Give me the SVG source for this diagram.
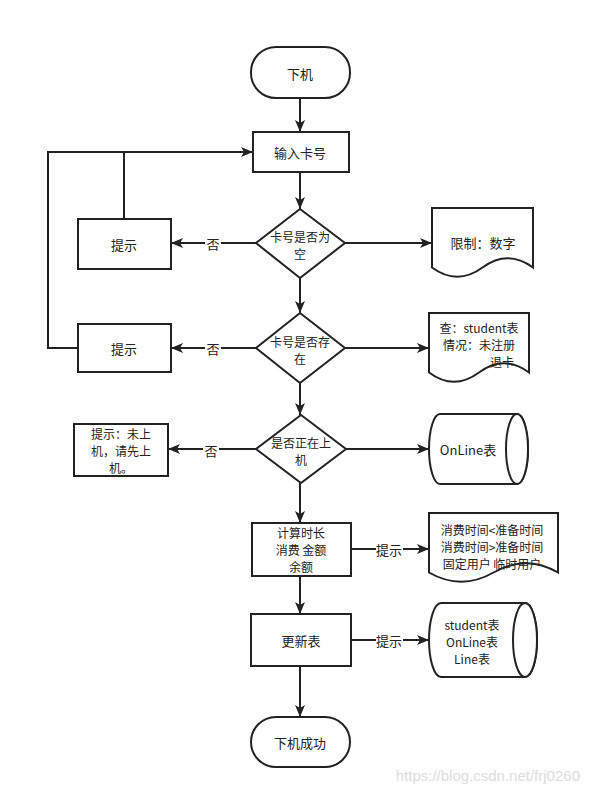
<svg xmlns="http://www.w3.org/2000/svg" width="590" height="799" viewBox="0 0 590 799">
<defs>
<marker id="arr" viewBox="0 0 12 10" refX="12" refY="5" markerWidth="12" markerHeight="10" markerUnits="userSpaceOnUse" orient="auto">
<path d="M0,0 L12,5 L0,10 L3,5 Z" fill="#222"/>
</marker>
<style>
.s{fill:#fff;stroke:#222;stroke-width:2}
.c{fill:none;stroke:#222;stroke-width:2}
.t{font-family:"Noto Sans CJK SC","Liberation Sans",sans-serif;font-size:13px;fill:#222;text-anchor:middle;dominant-baseline:central}
.m{font-size:12px}
.lb{fill:#fff}
</style>
</defs>
<rect width="590" height="799" fill="#fff"/>
<g id="connectors">
<path class="c" d="M300,98 V132" marker-end="url(#arr)"/>
<path class="c" d="M300,172 V209" marker-end="url(#arr)"/>
<path class="c" d="M300,278 V313" marker-end="url(#arr)"/>
<path class="c" d="M300,383 V415" marker-end="url(#arr)"/>
<path class="c" d="M300,483 V523" marker-end="url(#arr)"/>
<path class="c" d="M300,576 V614" marker-end="url(#arr)"/>
<path class="c" d="M300,666 V717" marker-end="url(#arr)"/>
<path class="c" d="M256,243 H171" marker-end="url(#arr)"/>
<path class="c" d="M256,348 H171" marker-end="url(#arr)"/>
<path class="c" d="M256,449 H168" marker-end="url(#arr)"/>
<path class="c" d="M345,243 H432" marker-end="url(#arr)"/>
<path class="c" d="M345,348 H429" marker-end="url(#arr)"/>
<path class="c" d="M346,449 H429" marker-end="url(#arr)"/>
<path class="c" d="M351,549 H429" marker-end="url(#arr)"/>
<path class="c" d="M351,640 H429" marker-end="url(#arr)"/>
<path class="c" d="M124,219 V152 H253" marker-end="url(#arr)"/>
<path class="c" d="M78,348 H48 V152 H124"/>
<rect class="lb" x="205" y="235" width="16" height="16"/>
<text class="t" x="213" y="243">否</text>
<rect class="lb" x="205" y="340" width="16" height="16"/>
<text class="t" x="213" y="348">否</text>
<rect class="lb" x="203" y="441" width="16" height="16"/>
<text class="t" x="211" y="450">否</text>
<rect class="lb" x="376" y="541" width="27" height="16"/>
<text class="t" x="389" y="549">提示</text>
<rect class="lb" x="376" y="632" width="27" height="16"/>
<text class="t" x="389" y="640">提示</text>
</g>
<g id="start">
<rect class="s" x="251" y="47" width="99" height="51" rx="25" ry="25"/>
<text class="t" x="300" y="73">下机</text>
</g>
<g id="input">
<rect class="s" x="253" y="132" width="96" height="40"/>
<text class="t" x="300" y="152">输入卡号</text>
</g>
<g id="d1">
<polygon class="s" points="300,209 345,243 300,278 256,243"/>
<text class="t m" x="300" y="236">卡号是否为</text>
<text class="t m" x="300" y="253">空</text>
</g>
<g id="tip1">
<rect class="s" x="78" y="219" width="93" height="50"/>
<text class="t" x="124" y="244">提示</text>
</g>
<g id="doc1">
<path class="s" d="M432,208 H533 V267.5 Q507.75,249 482.5,267.5 Q457.25,286 432,267.5 Z"/>
<text class="t" x="483" y="242">限制：数字</text>
</g>
<g id="d2">
<polygon class="s" points="300,313 345,348 300,383 256,348"/>
<text class="t m" x="300" y="341">卡号是否存</text>
<text class="t m" x="300" y="358">在</text>
</g>
<g id="tip2">
<rect class="s" x="78" y="324" width="93" height="48"/>
<text class="t" x="124" y="348">提示</text>
</g>
<g id="doc2">
<path class="s" d="M429,313 H529 V372.5 Q504,354 479,372.5 Q454,391 429,372.5 Z"/>
<text class="t m" x="479" y="327">查：student表</text>
<text class="t m" x="479" y="344">情况：未注册</text>
<text class="t m" x="502" y="361">退卡</text>
</g>
<g id="d3">
<polygon class="s" points="301,415 346,449 301,483 256,449"/>
<text class="t m" x="301" y="442">是否正在上</text>
<text class="t m" x="301" y="459">机</text>
</g>
<g id="tip3">
<rect class="s" x="74" y="424" width="94" height="52"/>
<text class="t m" x="121" y="433">提示：未上</text>
<text class="t m" x="121" y="450">机，请先上</text>
<text class="t m" x="121" y="467">机。</text>
</g>
<g id="online">
<path class="s" d="M440,414 H517 A11,35 0 0 1 517,484 H440 A11,35 0 0 1 440,414 Z"/>
<ellipse class="s" cx="517" cy="449" rx="11" ry="35"/>
<text class="t" x="468" y="449">OnLine表</text>
</g>
<g id="calc">
<rect class="s" x="252" y="523" width="99" height="53"/>
<text class="t m" x="301" y="532">计算时长</text>
<text class="t m" x="301" y="549">消费 金额</text>
<text class="t m" x="301" y="566">余额</text>
</g>
<g id="doc3">
<path class="s" d="M429,513 H558 V572.5 Q525.75,554 493.5,572.5 Q461.25,591 429,572.5 Z"/>
<text class="t m" x="492" y="529">消费时间&lt;准备时间</text>
<text class="t m" x="492" y="546">消费时间&gt;准备时间</text>
<text class="t m" x="492" y="563">固定用户 临时用户</text>
</g>
<g id="update">
<rect class="s" x="251" y="614" width="100" height="52"/>
<text class="t" x="301" y="640">更新表</text>
</g>
<g id="tables">
<path class="s" d="M441,603 H525 A12,37 0 0 1 525,677 H441 A12,37 0 0 1 441,603 Z"/>
<ellipse class="s" cx="525" cy="640" rx="12" ry="37"/>
<text class="t m" x="472" y="624">student表</text>
<text class="t m" x="472" y="641">OnLine表</text>
<text class="t m" x="472" y="658">Line表</text>
</g>
<g id="end">
<rect class="s" x="251" y="717" width="99" height="50" rx="25" ry="25"/>
<text class="t" x="300" y="742">下机成功</text>
</g>
<text x="580" y="781" style="font-family:'Liberation Sans',sans-serif;font-size:15px;fill:#ddd;text-anchor:end">https://blog.csdn.net/frj0260</text>
</svg>
